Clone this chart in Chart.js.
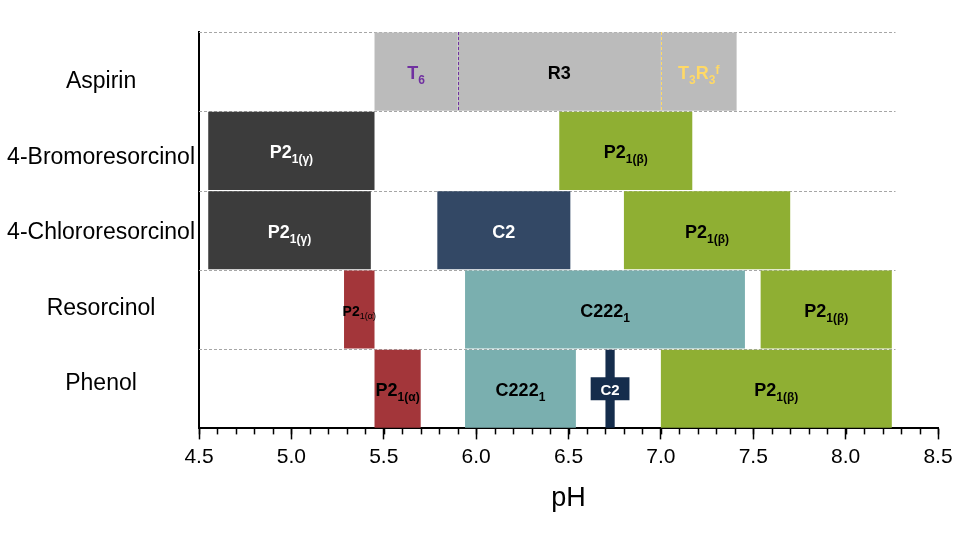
<!DOCTYPE html>
<html>
<head>
<meta charset="utf-8">
<script src="https://cdn.jsdelivr.net/npm/chart.js@4/dist/chart.umd.min.js"></script>
<style>
  html, body { margin: 0; padding: 0; background: #fff; }
  #wrap { width: 959px; height: 533px; }
</style>
</head>
<body>
<div id="wrap"><canvas id="c" width="959" height="533"></canvas></div>
<script>
// ---- data ----
const categories = ['Aspirin', '4-Bromoresorcinol', '4-Chlororesorcinol', 'Resorcinol', 'Phenol'];
const phaseCompound = ['Aspirin', 'Aspirin', 'Aspirin',
  '4-Bromoresorcinol', '4-Bromoresorcinol',
  '4-Chlororesorcinol', '4-Chlororesorcinol', '4-Chlororesorcinol',
  'Resorcinol', 'Resorcinol', 'Resorcinol',
  'Phenol', 'Phenol', 'Phenol', 'Phenol'];
const phaseStart = [5.45, 5.90, 7.00, 4.55, 6.45, 4.55, 5.79, 6.80, 5.285, 5.94, 7.54, 5.45, 5.94, 6.70, 7.00];
const phaseEnd   = [5.90, 7.00, 7.41, 5.45, 7.17, 5.43, 6.51, 7.70, 5.45, 7.455, 8.25, 5.70, 6.54, 6.75, 8.25];
const phaseLabel = ['T_{6}', 'R3', 'T_{3}R_{3}^{f}', 'P2_{1(γ)}', 'P2_{1(β)}', 'P2_{1(γ)}', 'C2', 'P2_{1(β)}',
  'P2_{1(α)}', 'C222_{1}', 'P2_{1(β)}', 'P2_{1(α)}', 'C222_{1}', 'C2', 'P2_{1(β)}'];
// Phenol C2 label box
const boxCompound = 'Phenol';
const boxStart = 6.62;
const boxEnd = 6.83;
const xTicksMin = 4.5, xTicksMax = 8.5, xStep = 0.5, xMinorStep = 0.1;

// ---- styles ----
const GRAY = '#bbbbbb', DARK = '#3c3c3c', GREEN = '#8faf33', NAVY = '#334865', DNAVY = '#152d4c', TEAL = '#7aafaf', RED = '#a3363a';
const phaseFill = [GRAY, GRAY, GRAY, DARK, GREEN, DARK, NAVY, GREEN, RED, TEAL, GREEN, RED, TEAL, DNAVY, GREEN];
const phaseText = ['#7030a0', '#000', '#ffd966', '#fff', '#000', '#fff', '#fff', '#000', '#000', '#000', '#000', '#000', '#000', '#fff', '#000'];
const phaseFont = [18, 18, 18, 18, 18, 18, 18, 18, 14, 18, 18, 18, 18, 15, 18];
const phaseSubWeight = ['bold', 'bold', 'bold', 'bold', 'bold', 'bold', 'bold', 'bold', 'normal', 'bold', 'bold', 'bold', 'bold', 'bold', 'bold'];
const dividerColor = {1: '#7030a0', 2: '#ffd966'}; // dashed dividers at start of these phases
const gridEnd = 8.27;
const FONT = '"Liberation Sans", Arial, sans-serif';

Chart.defaults.font.family = FONT;
Chart.defaults.color = '#000';

const datasets = phaseStart.map((s, i) => ({
  data: categories.map(c => c === phaseCompound[i] ? [s, phaseEnd[i]] : null),
  backgroundColor: phaseFill[i],
  borderWidth: 0,
  barPercentage: 0.985,
  categoryPercentage: 1,
  grouped: false,
  yAxisID: 'y',
  xAxisID: 'x',
  order: 2
}));
datasets.push({
  data: categories.map(c => c === boxCompound ? [boxStart, boxEnd] : null),
  backgroundColor: DNAVY,
  borderWidth: 0,
  barPercentage: 0.29,
  categoryPercentage: 1,
  grouped: false,
  yAxisID: 'y',
  xAxisID: 'x',
  order: 1
});

function parseRuns(str) {
  const runs = [];
  const re = /([_^])\{([^}]*)\}|([^_^]+)/g;
  let m;
  while ((m = re.exec(str))) {
    if (m[1]) runs.push({ t: m[2], k: m[1] === '_' ? 'sub' : 'sup' });
    else runs.push({ t: m[3], k: 'main' });
  }
  return runs;
}

const gridPlugin = {
  id: 'rowGrid',
  beforeDatasetsDraw(chart) {
    const ctx = chart.ctx, y = chart.scales.y, x = chart.scales.x;
    const h = y.getPixelForValue(1) - y.getPixelForValue(0);
    ctx.save();
    ctx.strokeStyle = '#a6a6a6';
    ctx.lineWidth = 1;
    ctx.setLineDash([3, 2]);
    const xe = x.getPixelForValue(gridEnd);
    categories.forEach((c, i) => {
      const py = Math.round(y.getPixelForValue(i) - h / 2) + 0.5;
      ctx.beginPath();
      ctx.moveTo(x.left, py);
      ctx.lineTo(xe, py);
      ctx.stroke();
    });
    ctx.restore();
  },
  afterDatasetsDraw(chart) {
    const ctx = chart.ctx, y = chart.scales.y, x = chart.scales.x;
    const h = y.getPixelForValue(1) - y.getPixelForValue(0);
    ctx.save();
    // dividers
    ctx.lineWidth = 1;
    ctx.setLineDash([3, 2]);
    Object.keys(dividerColor).forEach(k => {
      const i = +k;
      const ci = categories.indexOf(phaseCompound[i]);
      const px = Math.round(x.getPixelForValue(phaseStart[i])) + 0.5;
      const cy = y.getPixelForValue(ci);
      ctx.strokeStyle = dividerColor[k];
      ctx.beginPath();
      ctx.moveTo(px, cy - h / 2);
      ctx.lineTo(px, cy + h / 2);
      ctx.stroke();
    });
    ctx.setLineDash([]);
    // labels
    ctx.textBaseline = 'alphabetic';
    ctx.textAlign = 'left';
    phaseLabel.forEach((lab, i) => {
      const meta = chart.getDatasetMeta(i);
      const ci = categories.indexOf(phaseCompound[i]);
      const el = meta.data[ci];
      if (!el) return;
      const cx = (el.x + el.base) / 2;
      const cy = el.y;
      const size = phaseFont[i];
      const subSize = Math.round(size * 0.67);
      const runs = parseRuns(lab);
      const fontFor = r => (r.k === 'main' ? 'bold ' + size : phaseSubWeight[i] + ' ' + subSize) + 'px ' + FONT;
      let total = 0;
      runs.forEach(r => {
        ctx.font = fontFor(r);
        r.w = ctx.measureText(r.t).width;
        total += r.w;
      });
      let px = cx - total / 2;
      const base = cy + size * 0.36 + 1;
      ctx.fillStyle = phaseText[i];
      runs.forEach(r => {
        ctx.font = fontFor(r);
        let by = base;
        if (r.k === 'sub') by = base + size * 0.28;
        if (r.k === 'sup') by = base - size * 0.3;
        ctx.fillText(r.t, px, by);
        px += r.w;
      });
    });
    ctx.restore();
  },
  afterDraw(chart) {
    const ctx = chart.ctx, x = chart.scales.x;
    const yb = chart.chartArea.bottom;
    ctx.save();
    ctx.strokeStyle = '#000';
    ctx.lineWidth = 1.5;
    const n = Math.round((xTicksMax - xTicksMin) / xMinorStep);
    for (let k = 0; k <= n; k++) {
      const v = xTicksMin + k * xMinorStep;
      const px = Math.round(x.getPixelForValue(v)) + 0.5;
      ctx.beginPath();
      ctx.moveTo(px, yb);
      ctx.lineTo(px, yb + 6);
      ctx.stroke();
    }
    ctx.restore();
  }
};

new Chart(document.getElementById('c'), {
  type: 'bar',
  data: { labels: categories, datasets },
  options: {
    indexAxis: 'y',
    responsive: false,
    animation: false,
    layout: { padding: { top: 32, right: 21, bottom: 18.5, left: 0 } },
    plugins: { legend: { display: false }, tooltip: { enabled: false } },
    scales: {
      x: {
        type: 'linear',
        position: 'bottom',
        min: xTicksMin,
        max: xTicksMax,
        ticks: {
          stepSize: xStep,
          callback: v => Number(v).toFixed(1),
          font: { size: 21 },
          color: '#000',
          padding: 5,
          maxRotation: 0
        },
        grid: { drawOnChartArea: false, drawTicks: true, tickLength: 11, tickColor: '#000', tickWidth: 1.5 },
        border: { color: '#000', width: 2 },
        title: { display: true, text: 'pH', font: { size: 27 }, color: '#000', padding: { top: 7.5, bottom: 0 } }
      },
      y: {
        type: 'category',
        labels: categories,
        display: false,
        offset: true
      },
      yl: {
        type: 'linear',
        position: 'left',
        reverse: true,
        offset: false,
        min: -0.66,
        max: 4.59,
        afterBuildTicks: axis => { axis.ticks = categories.map((c, i) => ({ value: i })); },
        afterFit: axis => { axis.width = 199; },
        ticks: {
          callback: v => categories[v],
          font: { size: 23 },
          color: '#000',
          crossAlign: 'center',
          padding: 4
        },
        grid: { display: false, drawTicks: false, offset: false },
        border: { color: '#000', width: 2 }
      }
    }
  },
  plugins: [gridPlugin]
});
</script>
</body>
</html>
